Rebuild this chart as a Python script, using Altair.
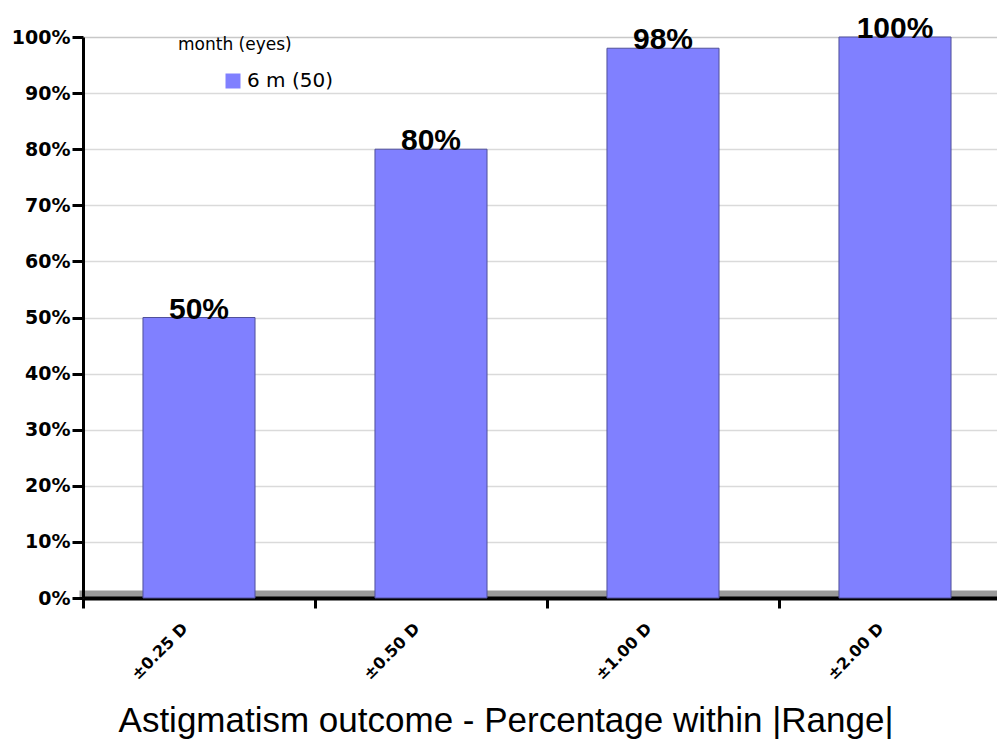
import altair as alt
import pandas as pd

categories = ["±0.25 D", "±0.50 D", "±1.00 D", "±2.00 D"]
values = [50, 80, 98, 100]
value_labels = ["50%", "80%", "98%", "100%"]
series_name = "6 m (50)"
y_ticks = [0, 10, 20, 30, 40, 50, 60, 70, 80, 90, 100]
floor_tick = [0]

df = pd.DataFrame({
    "range": categories,
    "pct": values,
    "label": value_labels,
    "series": [series_name] * len(categories),
})

FONT = "Liberation Sans"
WIDE = "DejaVu Sans"
BAR = "#8080FF"

# the category axis runs a little past the right edge of the window
xscale = alt.Scale(paddingInner=0, paddingOuter=0, range=[0, 928])

x_main = alt.X(
    "range:N", sort=categories, title=None, scale=xscale,
    axis=alt.Axis(
        labelAngle=-45, labelFont=WIDE, labelFontWeight="bold", labelFontSize=16,
        labelColor="black", domainColor="black", domainWidth=4,
        tickColor="black", tickWidth=3, tickSize=10, tickBand="extent",
        labelPadding=12, labelOffset=-20, grid=False,
    ),
)
y_main = alt.Y(
    "pct:Q", title=None,
    scale=alt.Scale(domain=[0, 100], nice=False),
    axis=alt.Axis(
        values=y_ticks, labelExpr="datum.value + '%'",
        labelFont=WIDE, labelFontWeight="bold", labelFontSize=19, labelColor="black",
        domainColor="black", domainWidth=3, tickColor="black", tickWidth=3, tickSize=11,
        labelPadding=2,
        grid=True,
        gridColor={"condition": {"test": "datum.value === 100", "value": "#c8c8c8"}, "value": "#dadada"},
        gridWidth=1.5,
    ),
)

color = alt.Color(
    "series:N",
    scale=alt.Scale(domain=[series_name], range=[BAR]),
    legend=alt.Legend(
        title="month (eyes)", orient="none", legendX=95, legendY=0,
        titleFont=WIDE, titleFontSize=17, titleFontWeight="normal", titleColor="black",
        labelFont=WIDE, labelFontSize=20, labelColor="black",
        symbolType="square", symbolSize=225, symbolOffset=45, symbolStrokeWidth=0,
        symbolOpacity=1, titlePadding=17, labelOffset=4,
    ),
)

bars = alt.Chart(df).mark_bar(
    stroke="#50509a", strokeWidth=1, opacity=1, width={"band": 0.483}
).encode(x=x_main, y=y_main, color=color)

# grey "floor" of the plot: a wide grid line at 0, drawn by a second y axis
floor_y = alt.Y(
    "pct:Q", title=None,
    axis=alt.Axis(
        orient="left", values=floor_tick, labels=False, ticks=False, domain=False,
        grid=True, gridColor="#9a9a9a", gridWidth=8, translate=-3.5,
    ),
)

texts = alt.Chart(df).mark_text(
    font=FONT, fontSize=30, fontWeight="bold", color="black", baseline="alphabetic", dy=1
).encode(x=alt.X("range:N", sort=categories), y=floor_y, text="label:N")

chart = alt.layer(bars, texts).resolve_axis(y="independent").properties(
    width=914, height=561,
    autosize="none",
    padding={"left": 75, "top": 29, "right": 0, "bottom": 141},
    title=alt.TitleParams(
        "Astigmatism outcome - Percentage within |Range|",
        orient="bottom", font=FONT, fontSize=35, fontWeight="normal", color="black",
        offset=22, dx=-34,
    ),
).configure_view(strokeWidth=0)

chart.save("out.html", embed_options={"renderer": "svg", "actions": False})
